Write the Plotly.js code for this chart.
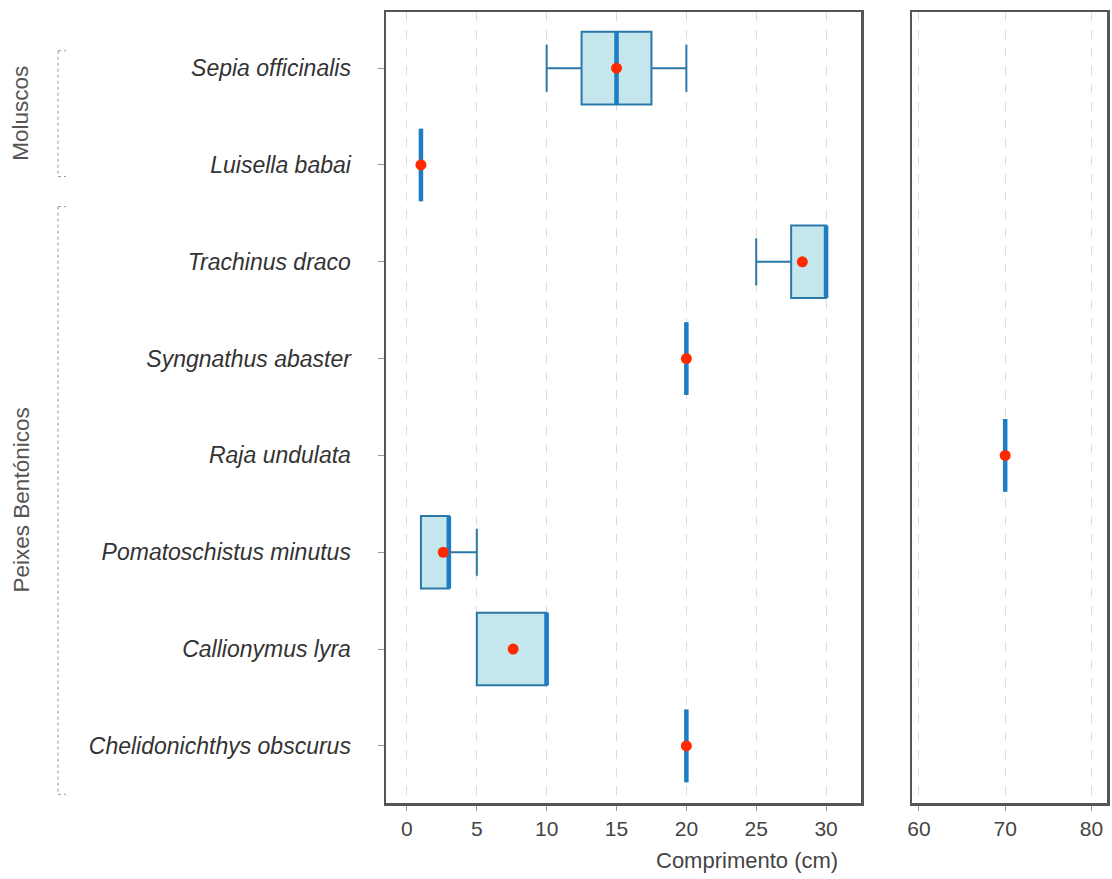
<!DOCTYPE html>
<html>
<head>
<meta charset="utf-8">
<script src="https://cdn.plot.ly/plotly-3.0.1.min.js"></script>
<style>html,body{margin:0;padding:0;background:#fff;}#chart{width:1112px;height:879px;}</style>
</head>
<body>
<div id="chart"></div>
<script>
// ---- data ----
const species = ['Sepia officinalis','Luisella babai','Trachinus draco','Syngnathus abaster','Raja undulata','Pomatoschistus minutus','Callionymus lyra','Chelidonichthys obscurus'];
const lowerWhisker = [10, 1, 25, 20, 70, 1, 5, 20];
const q1Values     = [12.5, 1, 27.5, 20, 70, 1, 5, 20];
const medianValues = [15, 1, 30, 20, 70, 3, 10, 20];
const q3Values     = [17.5, 1, 30, 20, 70, 3, 10, 20];
const upperWhisker = [20, 1, 30, 20, 70, 5, 10, 20];
const meanValues   = [15, 1, 28.3, 20, 70, 2.6, 7.6, 20];
const groupNames = ['Moluscos', 'Peixes Bentónicos'];
const groupOf = ['Moluscos','Moluscos','Peixes Bentónicos','Peixes Bentónicos','Peixes Bentónicos','Peixes Bentónicos','Peixes Bentónicos','Peixes Bentónicos'];
const leftTicks = [0, 5, 10, 15, 20, 25, 30];
const rightTicks = [60, 70, 80];
const breakAt = 50; // values above go to the right panel

// ---- styles ----
const boxLine = '#2a78a8';
const medLine = '#1c7cc4';
const boxFill = '#c6e6ee';
const meanCol = '#ff2a00';
const frame = '#555555';
const FONT = 'Liberation Sans, Arial, sans-serif';

function pick(arr, right) {
  return arr.filter((v, i) => right ? medianValues[i] > breakAt : medianValues[i] <= breakAt);
}

const traces = [];
[false, true].forEach(right => {
  const xa = right ? 'x2' : 'x';
  const ya = right ? 'y2' : 'y';
  const ys = pick(species, right);
  traces.push({
    type: 'box', orientation: 'h', xaxis: xa, yaxis: ya,
    y: ys, q1: pick(q1Values, right), median: pick(medianValues, right), q3: pick(q3Values, right),
    lowerfence: pick(lowerWhisker, right), upperfence: pick(upperWhisker, right),
    fillcolor: boxFill, line: {color: boxLine, width: 2}, width: 0.75, whiskerwidth: 0.65,
    boxpoints: false, showlegend: false, hoverinfo: 'skip'
  });
  const med = pick(medianValues, right);
  traces.push({
    type: 'box', orientation: 'h', xaxis: xa, yaxis: ya,
    y: ys, q1: med, median: med, q3: med, lowerfence: med, upperfence: med,
    fillcolor: 'rgba(0,0,0,0)', line: {color: medLine, width: 4.5}, width: 0.75, whiskerwidth: 0,
    boxpoints: false, showlegend: false, hoverinfo: 'skip'
  });
  traces.push({
    type: 'scatter', mode: 'markers', xaxis: xa, yaxis: ya,
    x: pick(meanValues, right), y: ys,
    marker: {color: meanCol, size: 11}, showlegend: false, hoverinfo: 'skip'
  });
});

const L = 386, R = 5, W = 1112, PW = W - L - R;
const px = v => (v - L) / PW;

const shapes = [];
const annotations = [];
groupNames.forEach(g => {
  const idx = groupOf.map((v, i) => v === g ? i : -1).filter(i => i >= 0);
  const top = idx[0] - (g === 'Moluscos' ? 0.18 : 0.57);
  const bot = idx[idx.length - 1] + (g === 'Moluscos' ? 0.12 : 0.5);
  const lineStyle = {color: '#9a9a9a', width: 1, dash: 'dot'};
  shapes.push({type: 'line', xref: 'paper', yref: 'y', x0: px(58), x1: px(58), y0: top, y1: bot, line: lineStyle});
  shapes.push({type: 'line', xref: 'paper', yref: 'y', x0: px(58), x1: px(66), y0: top, y1: top, line: lineStyle});
  shapes.push({type: 'line', xref: 'paper', yref: 'y', x0: px(58), x1: px(66), y0: bot, y1: bot, line: lineStyle});
  annotations.push({
    xref: 'paper', yref: 'y', x: px(21), y: (top + bot) / 2, text: g, textangle: -90,
    showarrow: false, font: {family: FONT, size: 22.5, color: '#555'},
    xanchor: 'center', yanchor: 'middle'
  });
});
annotations.push({
  xref: 'paper', yref: 'paper', x: 0.5, y: 0, yshift: -57, text: 'Comprimento (cm)', showarrow: false,
  font: {family: FONT, size: 22, color: '#444'}, xanchor: 'center', yanchor: 'middle'
});

const xCommon = {
  showline: true, mirror: true, linecolor: frame, linewidth: 2.5,
  ticks: 'outside', ticklen: 5, tickcolor: '#999', tickwidth: 1,
  showgrid: true, gridcolor: '#dcdcdc', griddash: 'dash', gridwidth: 1,
  zeroline: false, tickfont: {family: FONT, size: 21, color: '#444'}
};

const layout = {
  width: 1112, height: 879,
  margin: {l: L, r: R, t: 12, b: 76},
  paper_bgcolor: '#fff', plot_bgcolor: '#fff',
  boxmode: 'overlay', showlegend: false,
  xaxis: Object.assign({}, xCommon, {domain: [0, 475 / PW], range: [-1.5, 32.5], tickvals: leftTicks, anchor: 'y'}),
  xaxis2: Object.assign({}, xCommon, {domain: [526 / PW, 1], range: [59.2, 81.8], tickvals: rightTicks, anchor: 'y2'}),
  yaxis: {
    type: 'category', categoryorder: 'array', categoryarray: species, range: [7.59, -0.58],
    showline: true, mirror: true, linecolor: frame, linewidth: 2.5,
    ticks: 'outside', ticklen: 6, tickcolor: '#999', tickwidth: 1, ticklabelstandoff: 22,
    showgrid: false, zeroline: false, anchor: 'x',
    tickfont: {family: FONT, size: 23, color: '#333', style: 'italic'}
  },
  yaxis2: {
    type: 'category', categoryorder: 'array', categoryarray: species, range: [7.59, -0.58],
    matches: 'y', anchor: 'x2', showticklabels: false, ticks: '',
    showline: true, mirror: true, linecolor: frame, linewidth: 2.5, showgrid: false, zeroline: false
  },
  shapes: shapes,
  annotations: annotations
};

Plotly.newPlot('chart', traces, layout, {displayModeBar: false, staticPlot: true});
</script>
</body>
</html>
